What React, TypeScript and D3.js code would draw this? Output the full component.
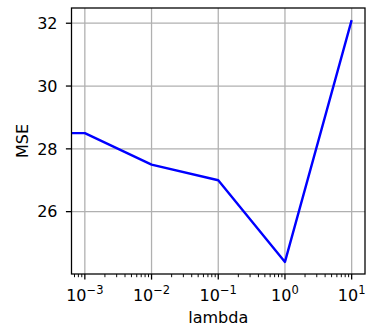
import React from "react";
import * as d3 from "d3";

const lambdas = [0, 0.001, 0.01, 0.1, 1, 10];
const mse = [28.5, 28.5, 27.5, 27.0, 24.4, 32.1];
const xTickExps = [-3, -2, -1, 0, 1];
const yTicks = [26, 28, 30, 32];

const W = 366;
const H = 328;
const L = 71.5, R = 365, T = 8, B = 274;
const FONT = "DejaVu Sans, sans-serif";

export default function App() {
  const x = d3.scaleLog().domain([Math.pow(10, -3.2), Math.pow(10, 1.2)]).range([L, R]);
  const y = d3.scaleLinear().domain([24.015, 32.485]).range([B, T]);
  const xMin = x.domain()[0];
  const pts: [number, number][] = lambdas.map((l, i) => [x(Math.max(l, xMin)), y(mse[i])]);
  const line = d3.line()(pts) || "";

  const minor: number[] = [];
  for (let e = -4; e <= 1; e++) {
    for (let m = 2; m <= 9; m++) {
      const v = m * Math.pow(10, e);
      if (v >= x.domain()[0] && v <= x.domain()[1]) minor.push(v);
    }
  }

  return (
    <svg width={W} height={H} style={{ position: "absolute", left: 0, top: 0 }} fontFamily={FONT}>
      <rect width={W} height={H} fill="#fff" />
      <defs>
        <clipPath id="ax">
          <rect x={L} y={T} width={R - L} height={B - T} />
        </clipPath>
      </defs>
      {xTickExps.map((e) => (
        <line key={"gx" + e} x1={x(Math.pow(10, e))} x2={x(Math.pow(10, e))} y1={T} y2={B} stroke="#b0b0b0" strokeWidth={1.28} />
      ))}
      {yTicks.map((t) => (
        <line key={"gy" + t} x1={L} x2={R} y1={y(t)} y2={y(t)} stroke="#b0b0b0" strokeWidth={1.28} />
      ))}
      <path d={line} fill="none" stroke="#0000ff" strokeWidth={2.4} clipPath="url(#ax)" strokeLinejoin="round" />
      <rect x={L} y={T} width={R - L} height={B - T} fill="none" stroke="#000" strokeWidth={1.28} />
      {minor.map((v, i) => (
        <line key={"mn" + i} x1={x(v)} x2={x(v)} y1={B} y2={B + 3.2} stroke="#000" strokeWidth={0.96} />
      ))}
      {xTickExps.map((e) => {
        const px = x(Math.pow(10, e));
        const sup = e < 0 ? "\u2212" + Math.abs(e) : String(e);
        return (
          <g key={"xt" + e}>
            <line x1={px} x2={px} y1={B} y2={B + 5.6} stroke="#000" strokeWidth={1.28} />
            <text x={px} y={301} textAnchor="middle" fontSize={16} fill="#000">
              10<tspan dy={-7} fontSize={11.5}>{sup}</tspan>
            </text>
          </g>
        );
      })}
      {yTicks.map((t) => (
        <g key={"yt" + t}>
          <line x1={L - 5.6} x2={L} y1={y(t)} y2={y(t)} stroke="#000" strokeWidth={1.28} />
          <text x={57.5} y={y(t)} dy="0.36em" textAnchor="end" fontSize={16} fill="#000">{t}</text>
        </g>
      ))}
      <text x={(L + R) / 2} y={323} textAnchor="middle" fontSize={16} fill="#000">lambda</text>
      <text transform={`translate(28,${(T + B) / 2}) rotate(-90)`} textAnchor="middle" fontSize={16} fill="#000">MSE</text>
    </svg>
  );
}
